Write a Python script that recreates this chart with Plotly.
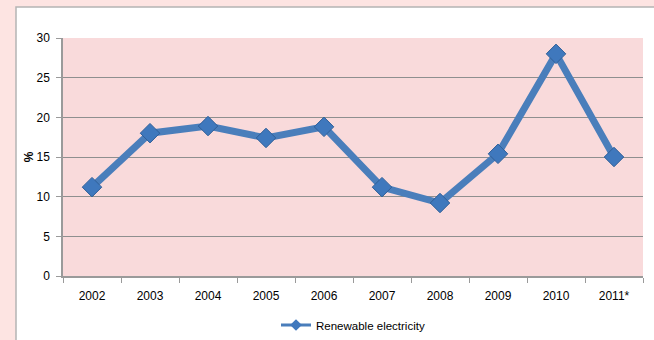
import plotly.graph_objects as go

years = ["2002", "2003", "2004", "2005", "2006", "2007", "2008", "2009", "2010", "2011*"]
renewable_share = [11.2, 18.0, 18.9, 17.4, 18.8, 11.2, 9.2, 15.4, 28.0, 15.0]
y_ticks = [0, 5, 10, 15, 20, 25, 30]

W, H = 654, 340
L, R, T, B = 63, 11, 38, 64
pw, ph = W - L - R, H - T - B

def px_to_paper_x(px):
    return (px - L) / pw

def px_to_paper_y(py):
    return (H - B - py) / ph

LINE_COLOR = "#4a7ebb"
MARKER_COLOR = "#3f78bd"

fig = go.Figure()
fig.add_trace(go.Scatter(
    x=years, y=renewable_share, mode="lines+markers",
    name="Renewable electricity", showlegend=False,
    line=dict(color=LINE_COLOR, width=7),
    marker=dict(symbol="diamond", size=15, color=MARKER_COLOR,
                line=dict(color="#2f5f98", width=1)),
))
# slim legend key: thin line with a small diamond
fig.add_trace(go.Scatter(
    x=[None], y=[None], mode="lines+markers",
    name="Renewable electricity", showlegend=True,
    line=dict(color=LINE_COLOR, width=3),
    marker=dict(symbol="diamond", size=9, color=MARKER_COLOR),
))

fig.update_layout(
    width=W, height=H,
    margin=dict(l=L, r=R, t=T, b=B, autoexpand=False),
    paper_bgcolor="#fde4e2",
    plot_bgcolor="#f9dadb",
    font=dict(family="Liberation Sans, Arial, sans-serif", size=12, color="#000000"),
    showlegend=True,
    legend=dict(orientation="h", x=0.5, xanchor="center",
                y=px_to_paper_y(325), yanchor="middle",
                font=dict(size=11.5), bgcolor="rgba(0,0,0,0)",
                itemwidth=30, tracegroupgap=0),
    shapes=[
        dict(type="rect", xref="paper", yref="paper",
             x0=px_to_paper_x(16), x1=px_to_paper_x(670),
             y0=px_to_paper_y(360), y1=px_to_paper_y(7),
             fillcolor="#ffffff", line=dict(color="#b4b4b4", width=1.5),
             layer="below"),
        dict(type="rect", xref="paper", yref="paper",
             x0=0, x1=1, y0=0, y1=1,
             fillcolor="#f9dadb", line=dict(width=0), layer="below"),
    ],
    yaxis=dict(range=[0, 30], tickvals=y_ticks, showgrid=True, gridcolor="#8f8f8f",
               gridwidth=1, showline=True, linecolor="#9a9a9a", linewidth=1.5,
               ticks="outside", ticklen=5, tickcolor="#9a9a9a", zeroline=False,
               ticklabelstandoff=4,
               title=dict(text="<b>%</b>", font=dict(size=12), standoff=0),
               fixedrange=True),
    xaxis=dict(type="category", showgrid=False, showline=True, linecolor="#9a9a9a",
               linewidth=2, ticks="outside", ticklen=5, tickcolor="#9a9a9a",
               tickson="boundaries", range=[-0.5, len(years) - 0.5],
               ticklabelstandoff=8, fixedrange=True),
)

fig.write_html("out.html")
